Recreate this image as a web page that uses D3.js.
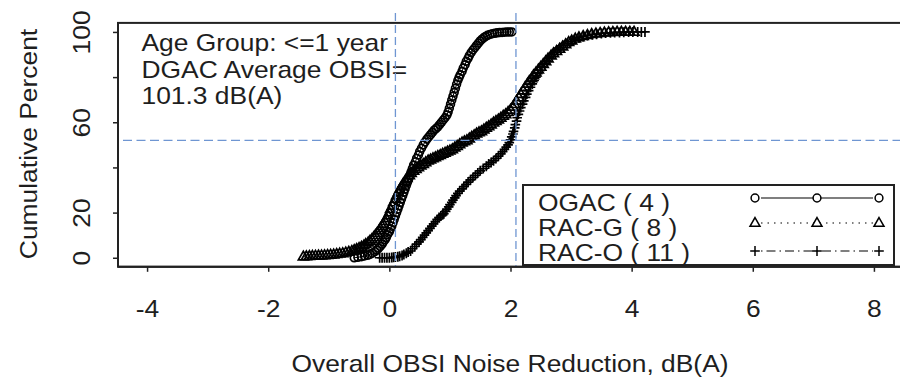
<!DOCTYPE html>
<html>
<head>
<meta charset="utf-8">
<script src="https://cdn.jsdelivr.net/npm/d3@7"></script>
<style>
body { margin: 0; background: #fff; }
svg text { font-family: "Liberation Sans", Arial, sans-serif; fill: #1e1e1e; }
</style>
</head>
<body>
<svg width="900" height="378"></svg>
<script>
// cumulative percent curves, [noise reduction dB(A), cumulative %]
var ogac = [[-0.58,0],[-0.52,0.2],[-0.46,0.5],[-0.41,0.8],[-0.36,1.1],[-0.32,1.5],[-0.28,2],[-0.24,2.7],[-0.21,3.4],
  [-0.18,4.2],[-0.15,5],[-0.12,6],[-0.1,7],[-0.07,8],[-0.05,9],[-0.03,10.2],[0,11.5],[0.02,12.8],[0.04,14],[0.06,15.5],
  [0.08,17],[0.1,18.5],[0.12,20],[0.14,21.5],[0.16,23],[0.18,24.5],[0.2,26],[0.22,27.5],[0.24,29],[0.26,30.5],
  [0.28,32],[0.3,33.5],[0.32,35],[0.34,36.5],[0.36,38],[0.38,39.5],[0.4,41],[0.43,42.5],[0.45,44],[0.48,45.5],
  [0.5,47],[0.53,48.5],[0.56,50],[0.59,51.3],[0.62,52.5],[0.65,53.5],[0.68,54.5],[0.71,55.5],[0.74,56.5],[0.77,57.2],
  [0.8,58],[0.83,59],[0.86,60],[0.89,61],[0.92,62],[0.95,63.2],[0.97,64.5],[0.99,66.2],[1.01,68],[1.03,69.8],
  [1.05,71.5],[1.07,73.2],[1.09,75],[1.11,76.8],[1.13,78.5],[1.15,79.8],[1.17,81],[1.2,82.5],[1.22,84],[1.25,85.5],
  [1.27,87],[1.3,88.3],[1.32,89.5],[1.35,90.8],[1.38,92],[1.41,93],[1.44,94],[1.47,95],[1.5,96],[1.53,96.8],
  [1.56,97.5],[1.59,98],[1.62,98.5],[1.66,98.9],[1.7,99.2],[1.74,99.4],[1.78,99.6],[1.82,99.7],[1.86,99.8],
  [1.9,99.9],[1.94,100],[1.98,100],[2.02,100]];

var racG = [[-1.42,0.5],[-1.37,0.6],[-1.32,0.7],[-1.27,0.8],[-1.22,0.9],[-1.17,0.95],[-1.12,1],[-1.07,1.1],[-1.02,1.2],
  [-0.97,1.3],[-0.92,1.4],[-0.87,1.6],[-0.82,1.8],[-0.77,2],[-0.72,2.3],[-0.67,2.6],[-0.62,3],[-0.58,3.4],[-0.54,3.8],
  [-0.5,4.3],[-0.46,4.8],[-0.42,5.4],[-0.39,6],[-0.35,6.7],[-0.32,7.5],[-0.29,8.2],[-0.26,9],[-0.23,10],[-0.2,11],
  [-0.17,12],[-0.15,13],[-0.12,14],[-0.1,15],[-0.07,16.2],[-0.05,17.5],[-0.02,18.7],[0,20],[0.02,21.5],[0.05,23],
  [0.07,24.5],[0.1,26],[0.12,27.5],[0.15,29],[0.17,30.2],[0.2,31.5],[0.23,32.8],[0.26,34],[0.29,35.3],[0.33,36.5],
  [0.36,37.5],[0.4,38.5],[0.44,39.3],[0.48,40],[0.52,40.8],[0.56,41.5],[0.6,42.3],[0.64,43],[0.68,43.5],[0.72,44],
  [0.76,44.5],[0.8,45],[0.84,45.5],[0.88,46],[0.92,46.5],[0.96,47],[1.0,47.5],[1.04,48],[1.08,48.8],[1.12,49.5],
  [1.16,50.2],[1.2,51],[1.24,51.5],[1.28,52],[1.32,52.8],[1.36,53.5],[1.4,54.2],[1.44,55],[1.48,55.5],[1.52,56],
  [1.56,56.8],[1.6,57.5],[1.64,58.2],[1.68,59],[1.72,59.8],[1.76,60.5],[1.8,61.2],[1.84,62],[1.88,62.8],[1.92,63.5],
  [1.96,64.5],[2.0,65.5],[2.04,66.8],[2.07,68],[2.1,69.5],[2.14,71],[2.17,72.5],[2.21,74],[2.24,75.5],[2.28,77],
  [2.31,78.2],[2.35,79.5],[2.38,80.8],[2.42,82],[2.46,83.3],[2.5,84.5],[2.54,85.8],[2.58,87],[2.62,88.2],[2.67,89.5],
  [2.71,90.5],[2.76,91.5],[2.81,92.5],[2.86,93.5],[2.91,94.5],[2.96,95.5],[3.01,96.2],[3.07,97],[3.13,97.6],[3.2,98.2],
  [3.27,98.6],[3.34,99],[3.41,99.3],[3.48,99.5],[3.55,99.7],[3.62,99.8],[3.69,99.9],[3.76,100],[3.83,100],[3.9,100],
  [3.97,100],[4.04,100]];

var racO = [[-0.16,0],[-0.12,0],[-0.08,0],[-0.04,0],[0,0],[0.04,0.1],[0.07,0.2],[0.1,0.3],[0.14,0.5],[0.17,0.7],[0.21,1],
  [0.24,1.5],[0.28,2],[0.31,2.5],[0.35,3],[0.38,4],[0.42,5],[0.45,6],[0.49,7],[0.52,8],[0.55,9],[0.58,10],[0.61,11],
  [0.64,12],[0.67,13],[0.7,14],[0.73,15],[0.76,16],[0.79,17],[0.82,17.8],[0.85,18.5],[0.88,19],[0.9,19.5],[0.93,20.5],
  [0.95,21.5],[0.98,22.5],[1.0,23.5],[1.03,24.5],[1.05,25.5],[1.08,26.5],[1.1,27.5],[1.13,28.5],[1.16,29.5],[1.2,30.5],
  [1.23,31.5],[1.27,32.5],[1.3,33.5],[1.34,34.5],[1.38,35.5],[1.42,36.5],[1.46,37.5],[1.5,38.5],[1.55,39.5],[1.6,40.5],
  [1.64,41.5],[1.68,42.2],[1.72,43],[1.76,44],[1.8,45],[1.84,46],[1.87,47],[1.9,48],[1.93,49],[1.96,50],[1.98,51],
  [2.0,52.2],[2.02,53.5],[2.04,54.8],[2.05,56],[2.07,57.5],[2.08,59],[2.1,60.5],[2.11,62],[2.13,63.5],[2.15,65],
  [2.17,66.5],[2.2,68],[2.22,69.5],[2.25,71],[2.27,72.5],[2.3,74],[2.33,75.5],[2.36,77],[2.39,78.5],[2.42,80],
  [2.45,81.5],[2.49,83],[2.52,84.5],[2.56,86],[2.6,87.2],[2.64,88.5],[2.68,89.8],[2.73,91],[2.78,92],[2.83,93],
  [2.88,94],[2.94,95],[3.0,95.8],[3.06,96.7],[3.13,97.4],[3.2,98],[3.27,98.4],[3.35,98.8],[3.42,99],[3.5,99.3],
  [3.57,99.5],[3.65,99.6],[3.72,99.7],[3.8,99.8],[3.87,99.9],[3.95,100],[4.02,100],[4.1,100],[4.16,100],[4.22,100]];

var legendNames = ['OGAC ( 4 )', 'RAC-G ( 8 )', 'RAC-O ( 11 )'];
var infoLines = ['Age Group: <=1 year', 'DGAC Average OBSI=', '101.3 dB(A)'];
var xTicks = [-4, -2, 0, 2, 4, 6, 8];
var yTicks = [0, 20, 40, 60, 80, 100];
var yLabelled = [0, 20, 60, 100];
var refX = [0.1, 2.09];   // blue dashed verticals
var refY = [52];          // blue dashed horizontal

var svg = d3.select('svg');
var fs = 24;
var wide = ' scale(1.1,1)';  // the reference font runs wider than Arial

var x = d3.scaleLinear().domain([-4.48, 8.48]).range([118, 903]);
var y = d3.scaleLinear().domain([-4, 104]).range([266.8, 22.9]);

// marker shapes (R pch 1, 2, 3)
function drawSym(g, kind) {
  if (kind == 'circle') {
    g.append('circle').attr('r', 3.9);
  } else if (kind == 'tri') {
    g.append('path').attr('d', 'M0,-5.4L5,3.3L-5,3.3Z');
  } else {
    g.append('path').attr('d', 'M-4.8,0H4.8M0,-5V5');
  }
}

var series = [
  {data: ogac, sym: 'circle', dash: null},
  {data: racG, sym: 'tri', dash: '1.5,5'},
  {data: racO, sym: 'plus', dash: '1.5,4,9,4'}
];

var line = d3.line()
  .x(function(d) { return x(d[0]); })
  .y(function(d) { return y(d[1]); });

var plot = svg.append('g');

series.forEach(function(s) {
  plot.append('path')
    .attr('d', line(s.data))
    .attr('fill', 'none')
    .attr('stroke', '#000')
    .attr('stroke-width', 1)
    .attr('stroke-dasharray', s.dash);

  plot.selectAll(null)
    .data(s.data)
    .enter()
    .append('g')
    .attr('transform', function(d) { return 'translate(' + x(d[0]) + ',' + y(d[1]) + ')'; })
    .attr('fill', 'none')
    .attr('stroke', '#000')
    .attr('stroke-width', 1.7)
    .each(function() { drawSym(d3.select(this), s.sym); });
});

// box round the plot
svg.append('rect')
  .attr('x', x.range()[0]).attr('y', y.range()[1])
  .attr('width', x.range()[1] - x.range()[0])
  .attr('height', y.range()[0] - y.range()[1])
  .attr('fill', 'none')
  .attr('stroke', '#222')
  .attr('stroke-width', 2);

// x axis
var xAxis = svg.append('g')
  .attr('transform', 'translate(0,' + y.range()[0] + ')')
  .call(d3.axisBottom(x).tickValues(xTicks).tickSize(5).tickFormat(function(d) { return String(d); }));
xAxis.select('.domain').remove();
xAxis.selectAll('line').attr('stroke', '#222').attr('stroke-width', 1.5);
xAxis.selectAll('text')
  .attr('y', null).attr('dy', null)
  .attr('transform', 'translate(0,50.2)' + wide)
  .attr('font-size', fs)
  .attr('fill', '#1e1e1e');
xAxis.attr('font-family', null).attr('font-size', null);

// y axis, labels turned like R's las=0
var yAxis = svg.append('g')
  .attr('transform', 'translate(' + x.range()[0] + ',0)')
  .call(d3.axisLeft(y).tickValues(yTicks).tickSize(5)
    .tickFormat(function(d) { return yLabelled.indexOf(d) >= 0 ? String(d) : ''; }));
yAxis.select('.domain').remove();
yAxis.selectAll('line').attr('stroke', '#222').attr('stroke-width', 1.5);
yAxis.selectAll('text')
  .attr('x', null).attr('dy', null)
  .attr('transform', 'translate(-28,0) rotate(-90)' + wide)
  .attr('text-anchor', 'middle')
  .attr('font-size', fs)
  .attr('fill', '#1e1e1e');
yAxis.attr('font-family', null).attr('font-size', null);

// axis titles
svg.append('text')
  .text('Overall OBSI Noise Reduction, dB(A)')
  .attr('transform', 'translate(510,372)' + wide)
  .attr('text-anchor', 'middle')
  .attr('font-size', fs);

svg.append('text')
  .text('Cumulative Percent')
  .attr('transform', 'translate(37,144) rotate(-90)' + wide)
  .attr('text-anchor', 'middle')
  .attr('font-size', fs);

// note in the top left corner
svg.selectAll('.info')
  .data(infoLines)
  .enter()
  .append('text')
  .attr('class', 'info')
  .attr('transform', function(d, i) { return 'translate(141.5,' + (51 + i * 26.5) + ')' + wide; })
  .attr('font-size', fs)
  .text(function(d) { return d; });

// blue dashed reference lines
svg.selectAll('.vref')
  .data(refX)
  .enter()
  .append('line')
  .attr('x1', function(d) { return x(d); }).attr('x2', function(d) { return x(d); })
  .attr('y1', 13).attr('y2', y.range()[0])
  .attr('stroke', '#6f96d2').attr('stroke-width', 1.3)
  .attr('stroke-dasharray', '8,4');

svg.selectAll('.href')
  .data(refY)
  .enter()
  .append('line')
  .attr('x1', 123).attr('x2', 900)
  .attr('y1', function(d) { return y(d); }).attr('y2', function(d) { return y(d); })
  .attr('stroke', '#6f96d2').attr('stroke-width', 1.3)
  .attr('stroke-dasharray', '9,4.5');

// legend, bottom right
var legend = svg.append('g');
legend.append('rect')
  .attr('x', 523).attr('y', 185)
  .attr('width', 371).attr('height', 80)
  .attr('fill', '#fff')
  .attr('stroke', '#222')
  .attr('stroke-width', 2);

var symY = [198, 223, 251];
var symX = [755, 817, 879];

series.forEach(function(s, i) {
  legend.append('text')
    .text(legendNames[i])
    .attr('transform', 'translate(538,' + (211 + i * 25) + ')' + wide)
    .attr('font-size', fs);

  legend.append('line')
    .attr('x1', symX[0] + 6).attr('x2', symX[2] - 6)
    .attr('y1', symY[i]).attr('y2', symY[i])
    .attr('stroke', '#000').attr('stroke-width', 1.2)
    .attr('stroke-dasharray', s.dash);

  symX.forEach(function(sx) {
    var g = legend.append('g')
      .attr('transform', 'translate(' + sx + ',' + symY[i] + ')')
      .attr('fill', '#fff')
      .attr('stroke', '#000')
      .attr('stroke-width', 1.5);
    drawSym(g, s.sym);
  });
});

// axis line over the legend bottom, like the reference
svg.append('line')
  .attr('x1', x.range()[0]).attr('x2', 900)
  .attr('y1', y.range()[0]).attr('y2', y.range()[0])
  .attr('stroke', '#222').attr('stroke-width', 2);
</script>
</body>
</html>
